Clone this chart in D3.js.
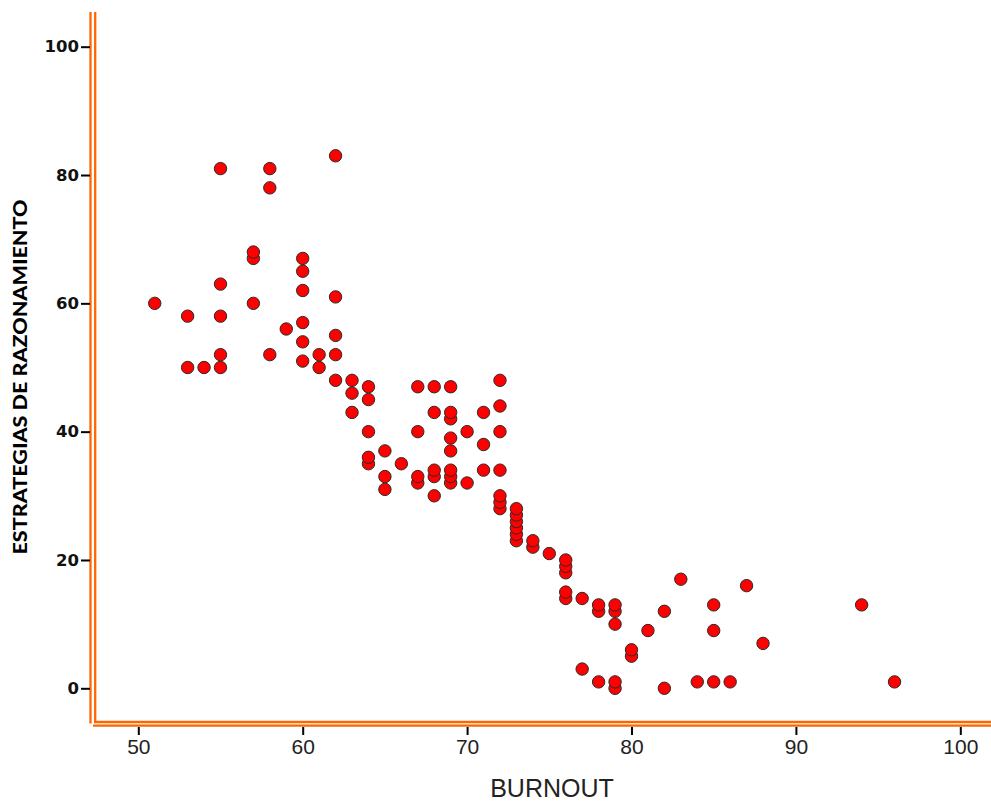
<!DOCTYPE html>
<html>
<head>
<meta charset="utf-8">
<script src="https://cdn.jsdelivr.net/npm/d3@7"></script>
<style>
  html, body { margin: 0; padding: 0; background: #fff; }
  svg { display: block; }
</style>
</head>
<body>
<svg id="chart" width="991" height="802"></svg>
<script>
// Data
const burnout = [
  51,
  53, 53,
  54,
  55, 55, 55, 55, 55,
  57, 57, 57,
  58, 58, 58,
  59,
  60, 60, 60, 60, 60, 60,
  61, 61,
  62, 62, 62, 62, 62,
  63, 63, 63,
  64, 64, 64, 64, 64,
  65, 65, 65,
  66,
  67, 67, 67, 67,
  68, 68, 68, 68, 68,
  69, 69, 69, 69, 69, 69, 69, 69,
  70, 70,
  71, 71, 71,
  72, 72, 72, 72, 72, 72, 72,
  73, 73, 73, 73, 73, 73,
  74, 74,
  75,
  76, 76, 76, 76, 76,
  77, 77,
  78, 78, 78,
  79, 79, 79, 79, 79,
  80, 80,
  81,
  82, 82,
  83,
  84,
  85, 85, 85,
  86,
  87,
  88,
  94,
  96
];
const estrategias = [
  60,
  50, 58,
  50,
  50, 52, 58, 63, 81,
  60, 67, 68,
  52, 78, 81,
  56,
  51, 54, 57, 62, 65, 67,
  50, 52,
  48, 52, 55, 61, 83,
  43, 46, 48,
  35, 36, 40, 45, 47,
  31, 33, 37,
  35,
  32, 33, 40, 47,
  30, 33, 34, 43, 47,
  32, 33, 34, 37, 39, 42, 43, 47,
  32, 40,
  34, 38, 43,
  28, 29, 30, 34, 40, 44, 48,
  23, 24, 25, 26, 27, 28,
  22, 23,
  21,
  14, 15, 18, 19, 20,
  3, 14,
  1, 12, 13,
  0, 1, 10, 12, 13,
  5, 6,
  9,
  0, 12,
  17,
  1,
  1, 9, 13,
  1,
  16,
  7,
  13,
  1
];
const xTicks = [50, 60, 70, 80, 90, 100];
const yTicks = [0, 20, 40, 60, 80, 100];
const xTitle = "BURNOUT";
const yTitle = "ESTRATEGIAS DE RAZONAMIENTO";

const points = burnout.map((b, i) => ({ x: b, y: estrategias[i] }));

const svg = d3.select("#chart");
const orange = "#ff6600";

const x = d3.scaleLinear().domain([50, 100]).range([138.3, 960.3]);
const y = d3.scaleLinear().domain([0, 100]).range([688.3, 46.7]);

// Frame: double orange lines
const frame = svg.append("g").attr("fill", "none").attr("stroke", orange).attr("stroke-width", 2.3);
frame.append("line").attr("x1", 90.5).attr("x2", 90.5).attr("y1", 12).attr("y2", 723.5);
frame.append("line").attr("x1", 95.2).attr("x2", 95.2).attr("y1", 12).attr("y2", 723);
frame.append("line").attr("x1", 94).attr("x2", 991).attr("y1", 722).attr("y2", 722);
frame.append("line").attr("x1", 93).attr("x2", 991).attr("y1", 725.6).attr("y2", 725.6);

// X axis
const gx = svg.append("g")
  .attr("transform", "translate(0,727)")
  .call(d3.axisBottom(x).tickValues(xTicks).tickSize(8).tickPadding(4).tickFormat(d3.format("d")));
gx.select(".domain").remove();
gx.selectAll(".tick line").attr("stroke", "#000").attr("stroke-width", 2);
gx.selectAll(".tick text")
  .attr("fill", "#222")
  .style("font-family", "'Liberation Sans', Arial, sans-serif")
  .style("font-size", "21px");

// Y axis
const gy = svg.append("g")
  .attr("transform", "translate(90,0)")
  .call(d3.axisLeft(y).tickValues(yTicks).tickSize(9).tickPadding(2).tickFormat(d3.format("d")));
gy.select(".domain").remove();
gy.selectAll(".tick line").attr("stroke", "#000").attr("stroke-width", 2);
gy.selectAll(".tick text")
  .attr("fill", "#111")
  .style("font-family", "'DejaVu Sans', sans-serif")
  .style("font-weight", "bold")
  .style("font-size", "16.5px");

// Axis titles
svg.append("text")
  .attr("x", 552).attr("y", 797)
  .attr("text-anchor", "middle")
  .attr("fill", "#222")
  .style("font-family", "'Liberation Sans', Arial, sans-serif")
  .style("font-size", "25px")
  .text(xTitle);

svg.append("text")
  .attr("transform", "translate(27,377) rotate(-90)")
  .attr("text-anchor", "middle")
  .attr("fill", "#000")
  .attr("textLength", 355)
  .attr("lengthAdjust", "spacingAndGlyphs")
  .style("font-family", "Lato, 'DejaVu Sans', sans-serif")
  .style("font-weight", "900")
  .style("font-size", "19px")
  .text(yTitle);

// Points
svg.append("g")
  .selectAll("circle")
  .data(points)
  .join("circle")
  .attr("cx", d => x(d.x))
  .attr("cy", d => y(d.y))
  .attr("r", 6.2)
  .attr("fill", "#ff0000")
  .attr("stroke", "#2a2a2a")
  .attr("stroke-width", 1);
</script>
</body>
</html>
